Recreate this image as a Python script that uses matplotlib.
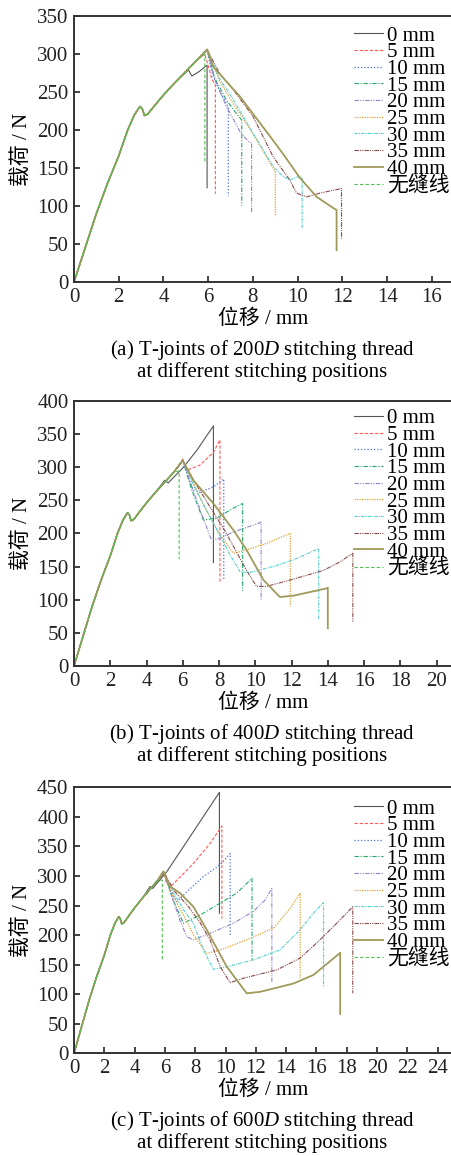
import matplotlib
matplotlib.use("Agg")
import matplotlib.pyplot as plt
import numpy as np

plt.rcParams['font.family'] = ['Liberation Serif', 'Noto Sans CJK SC']
plt.rcParams['mathtext.fontset'] = 'custom'
plt.rcParams['mathtext.rm'] = 'Liberation Serif'
plt.rcParams['mathtext.it'] = 'Liberation Serif:italic'

# ---------------- data ----------------
labels = ['0 mm', '5 mm', '10 mm', '15 mm', '20 mm', '25 mm', '30 mm', '35 mm', '40 mm', '无缝线']

# common rising part (shared by all specimens)
base_x = [0, 0.5, 1.0, 1.5, 2.0, 2.4, 2.7, 2.95, 3.05, 3.15, 3.3, 3.6, 4.0, 4.5, 5.0, 5.5]
base_y = [0, 45, 90, 130, 166, 200, 220, 231, 228, 219, 221, 232, 246, 262, 277, 292]
base_x0 = [0, 0.5, 1.0, 1.5, 2.0, 2.4, 2.7, 2.95, 3.05, 3.15, 3.3, 3.6, 4.0, 4.5]
base_y0 = [0, 45, 90, 130, 166, 200, 220, 231, 228, 219, 221, 232, 246, 262]

# (a) 200D tails
a_x = [
    [5.12, 5.27, 5.6, 5.93, 5.95, 5.95],
    [5.85, 6.0, 6.15, 6.32, 6.32],
    [5.95, 6.2, 6.5, 6.9, 6.9],
    [5.95, 6.3, 6.8, 7.2, 7.5, 7.5],
    [5.95, 6.3, 6.8, 7.42, 7.79, 7.94, 7.94],
    [5.95, 6.5, 7.0, 7.5, 8.0, 8.5, 9.0, 9.0],
    [5.95, 6.5, 7.12, 8.0, 8.9, 9.3, 9.65, 9.95, 10.2, 10.2],
    [5.95, 6.5, 7.12, 8.0, 8.9, 9.65, 9.95, 10.4, 11.0, 11.96, 11.96],
    [5.95, 6.23, 7.42, 8.91, 9.36, 10.1, 10.85, 11.66, 11.74, 11.74],
    [5.85, 5.85],
]
a_y = [
    [279, 271, 277, 285, 285, 124],
    [300, 285, 268, 259, 116],
    [305, 272, 252, 230, 113],
    [305, 268, 240, 224, 213, 100],
    [305, 266, 232, 198, 185, 183, 91],
    [306, 265, 240, 218, 195, 170, 145, 86],
    [306, 268, 240, 196, 152, 140, 134, 138, 138, 70],
    [306, 275, 253, 218, 165, 134, 117, 112, 117, 123, 57],
    [306, 283, 244, 186, 168, 137, 112, 96, 95, 42],
    [300, 156],
]

# (b) 400D tails
b_x = [
    [5.0, 5.2, 6.03, 6.77, 7.69, 7.69],
    [6.0, 6.21, 6.95, 7.69, 8.05, 8.05],
    [6.0, 6.3, 6.58, 6.95, 7.69, 8.26, 8.26],
    [6.0, 6.5, 7.13, 7.87, 8.79, 9.3, 9.3],
    [6.0, 6.6, 7.1, 7.55, 7.9, 8.79, 10.26, 10.32, 10.32],
    [6.0, 6.6, 7.3, 8.0, 8.79, 9.52, 10.63, 11.93, 11.93],
    [6.0, 6.6, 7.3, 8.0, 8.6, 9.16, 9.71, 10.99, 12.1, 13.5, 13.5],
    [6.0, 6.6, 7.5, 8.3, 8.8, 9.5, 10.07, 10.63, 12.1, 13.75, 14.67, 15.38, 15.38],
    [6.0, 6.58, 7.69, 8.79, 9.52, 10.44, 11.36, 12.1, 13.93, 14.0, 14.0],
    [5.8, 5.8],
]
b_y = [
    [280, 276, 299.5, 325, 362, 156],
    [312, 295, 303, 322, 341, 127],
    [310, 285, 265, 262, 270, 282, 130],
    [310, 265, 220, 223, 238, 245, 113],
    [310, 262, 225, 192, 191, 202, 216, 217, 100],
    [310, 275, 235, 200, 170, 175, 185, 200, 90],
    [310, 272, 235, 200, 168, 142, 141, 150, 160, 177, 69],
    [310, 280, 240, 205, 180, 145, 120, 120, 131, 144, 157, 170, 67],
    [310, 280, 245, 205, 175, 130, 104, 106, 117, 118, 57],
    [294, 161],
]

# (c) 600D tails
c_x = [
    [5.02, 5.2, 6.12, 7.88, 9.6, 9.6],
    [5.95, 6.1, 6.38, 7.88, 8.98, 9.76, 9.76],
    [5.95, 6.4, 6.78, 7.44, 8.54, 9.64, 10.31, 10.31],
    [5.95, 6.5, 7.22, 8.33, 9.64, 10.74, 11.75, 11.75],
    [5.95, 6.5, 7.0, 7.44, 7.88, 8.98, 10.52, 11.84, 12.61, 13.06, 13.06],
    [5.95, 6.5, 7.2, 7.9, 8.75, 9.64, 11.4, 13.16, 14.26, 14.93, 14.93],
    [5.95, 6.6, 7.3, 7.88, 8.54, 9.2, 10.08, 11.84, 13.6, 14.92, 15.8, 16.47, 16.47],
    [5.95, 6.6, 7.5, 8.3, 8.98, 9.64, 10.3, 11.18, 13.38, 14.92, 16.24, 17.34, 18.4, 18.4],
    [5.9, 6.3, 7.0, 7.88, 8.76, 10.08, 11.4, 12.28, 14.48, 15.8, 17.57, 17.57],
    [5.83, 5.83],
]
c_y = [
    [282, 279, 307, 375, 441.5, 237],
    [305, 288, 282, 321, 355, 384.5, 228],
    [306, 275, 256.5, 273, 299, 319, 338, 197],
    [306, 262, 220, 234, 254, 271, 296, 158],
    [306, 262, 225, 197, 192, 203, 220, 240, 259, 279, 121],
    [306, 268, 235, 200, 169, 174.5, 192, 211.5, 245, 271, 127],
    [306, 270, 240, 220, 175, 142, 146.5, 158, 175, 209, 237, 255, 113],
    [306, 275, 250, 222, 192, 147, 119.5, 127, 141, 161, 192, 220, 248, 101.5],
    [308, 283, 271, 248, 209, 146.5, 101.5, 104, 118, 132.5, 170, 66.5],
    [293, 158],
]

captions = [
    ['(a) T-joints of 200$\\mathit{D}$ stitching thread', 'at different stitching positions'],
    ['(b) T-joints of 400$\\mathit{D}$ stitching thread', 'at different stitching positions'],
    ['(c) T-joints of 600$\\mathit{D}$ stitching thread', 'at different stitching positions'],
]
x_ticks = [np.arange(0, 17, 2), np.arange(0, 21, 2), np.arange(0, 25, 2)]
y_ticks = [np.arange(0, 351, 50), np.arange(0, 401, 50), np.arange(0, 451, 50)]
x_lims = [16.9, 20.85, 24.95]
y_lims = [350, 400, 450]

# ---------------- styles ----------------
colors = ['#555555', '#ff5a5a', '#4a6fdc', '#22aa66', '#9580d0', '#e0a030',
          '#4fcfcf', '#8a4a4a', '#a09a5a', '#50c050']
dashes = [None, (3, 1.6), (1, 1.6), (4, 1.5, 1, 1.5), (4, 1.2, 1, 1.2, 1, 1.2),
          (1, 1), (3, 1, 1, 1), (4, 1, 1, 1, 1, 1), None, (3, 2)]
widths = [0.8, 0.8, 0.9, 0.8, 0.8, 0.9, 0.8, 0.8, 1.3, 0.8]

W, H = 452, 1156
fig = plt.figure(figsize=(W / 100, H / 100), dpi=100)

panels = [(16, 282, a_x, a_y), (400.7, 666, b_x, b_y), (787.3, 1053.3, c_x, c_y)]
leg_shift = [6, 4, 7.7]
FS = 15
for p, (top, bot, xs, ys) in enumerate(panels):
    ax = fig.add_axes([74 / W, 1 - bot / H, 378 / W, (bot - top) / H])
    for i in range(10):
        if i == 0:
            x = base_x0 + xs[i]
            y = base_y0 + ys[i]
        else:
            x = base_x + xs[i]
            y = base_y + ys[i]
        ln, = ax.plot(x, y, color=colors[i], lw=widths[i], label=labels[i])
        if dashes[i] is not None:
            ln.set_dashes(dashes[i])
    ax.set_xlim(0, x_lims[p])
    ax.set_ylim(0, y_lims[p])
    ax.set_xticks(x_ticks[p])
    ax.set_yticks(y_ticks[p])
    ax.tick_params(direction='in', length=4, width=1.2, labelsize=FS, pad=4,
                   colors='#222222', top=False, right=False)
    for s in ['left', 'bottom', 'top']:
        ax.spines[s].set_linewidth(1.4)
        ax.spines[s].set_color('#333333')
    ax.spines['right'].set_visible(False)
    ax.set_xlabel('位移 / mm', fontsize=FS, labelpad=2)
    ax.set_ylabel('载荷 / N', fontsize=FS, labelpad=4)
    hgt = bot - top
    leg = ax.legend(loc='upper left',
                    bbox_to_anchor=((354 - 74) / 378, 0.985 - leg_shift[p] / hgt),
                    frameon=False, fontsize=FS, handlelength=1.4, handletextpad=0.2,
                    labelspacing=-0.14, borderpad=0, borderaxespad=0)
    cy1 = 1 - (bot + 68) / H
    cy2 = 1 - (bot + 90) / H
    fig.text(262 / W, cy1, captions[p][0], ha='center', va='center', fontsize=15)
    fig.text(262 / W, cy2, captions[p][1], ha='center', va='center', fontsize=15)

fig.savefig('out.png', dpi=100)
